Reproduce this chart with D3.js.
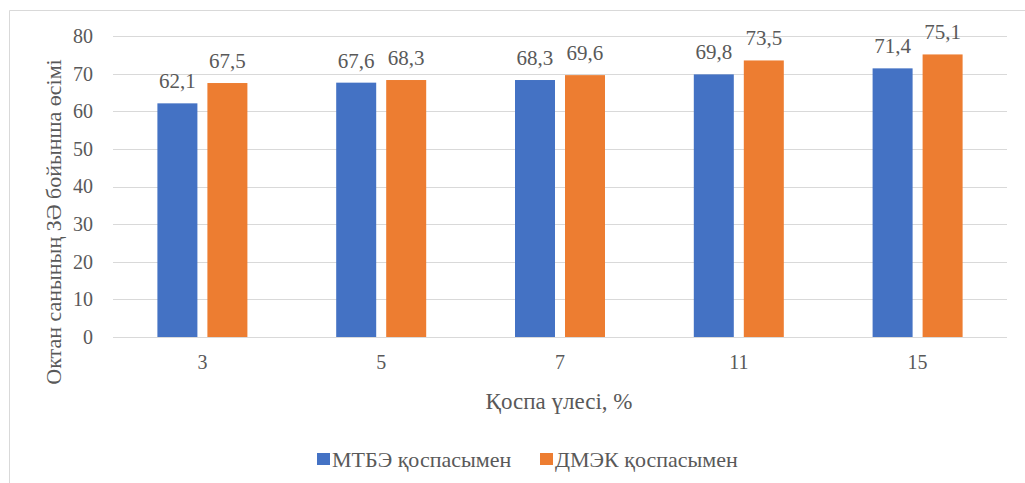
<!DOCTYPE html>
<html>
<head>
<meta charset="utf-8">
<script src="https://cdn.jsdelivr.net/npm/d3@7"></script>
<style>
  body { margin: 0; background: #fff; }
  svg { display: block; }
</style>
</head>
<body>
<svg width="1025" height="483"></svg>
<script>
const categories = ["3", "5", "7", "11", "15"];
const seriesNames = ["МТБЭ қоспасымен", "ДМЭК қоспасымен"];
const mtbeValues = [62.1, 67.6, 68.3, 69.8, 71.4];
const dmekValues = [67.5, 68.3, 69.6, 73.5, 75.1];
const yTicks = [0, 10, 20, 30, 40, 50, 60, 70, 80];

const colors = ["#4472C4", "#ED7D31"];
const textColor = "#595959";
const gridColor = "#d9d9d9";
const serif = "Liberation Serif";

const svg = d3.select("svg").attr("font-family", serif);

// chart frame (only left and top edges visible in the crop)
svg.append("line").attr("x1", 9.5).attr("y1", 10.5).attr("x2", 1025).attr("y2", 10.5).attr("stroke", gridColor);
svg.append("line").attr("x1", 9.5).attr("y1", 10.5).attr("x2", 9.5).attr("y2", 483).attr("stroke", gridColor);

const plot = { left: 113, right: 1007, top: 36, bottom: 337 };

const x0 = d3.scaleBand()
    .domain(categories)
    .range([plot.left, plot.right]);

const x1 = d3.scaleBand()
    .domain(seriesNames)
    .range([0, x0.bandwidth()])
    .paddingInner(0.2)
    .paddingOuter(0.888);

const y = d3.scaleLinear()
    .domain([0, 80])
    .range([plot.bottom, plot.top]);

// gridlines
svg.append("g")
    .selectAll("line")
    .data(yTicks)
    .join("line")
    .attr("x1", plot.left)
    .attr("x2", plot.right)
    .attr("y1", d => Math.round(y(d)) + 0.5)
    .attr("y2", d => Math.round(y(d)) + 0.5)
    .attr("stroke", gridColor)
    .attr("stroke-width", 1);

// y axis labels
const yAxis = svg.append("g")
    .attr("transform", `translate(${plot.left - 20},0)`)
    .call(d3.axisLeft(y).tickValues(yTicks).tickSize(0).tickPadding(0))
    .attr("font-family", serif);
yAxis.select(".domain").remove();
yAxis.selectAll("text")
    .attr("fill", textColor)
    .attr("font-size", 20);

// x axis labels
const xAxis = svg.append("g")
    .attr("transform", `translate(0,${plot.bottom + 18})`)
    .call(d3.axisBottom(x0).tickSize(0).tickPadding(0))
    .attr("font-family", serif);
xAxis.select(".domain").remove();
xAxis.selectAll("text")
    .attr("fill", textColor)
    .attr("font-size", 20);

// bars
const rows = categories.map((c, i) => ({ cat: c, vals: [mtbeValues[i], dmekValues[i]] }));

const groups = svg.append("g")
    .selectAll("g")
    .data(rows)
    .join("g")
    .attr("transform", d => `translate(${x0(d.cat)},0)`);

groups.selectAll("rect")
    .data(d => d.vals.map((v, j) => ({ name: seriesNames[j], value: v, idx: j })))
    .join("rect")
    .attr("x", d => x1(d.name))
    .attr("y", d => y(d.value))
    .attr("width", x1.bandwidth())
    .attr("height", d => y(0) - y(d.value))
    .attr("fill", d => colors[d.idx]);

// value labels
groups.selectAll("text")
    .data(d => d.vals.map((v, j) => ({ name: seriesNames[j], value: v })))
    .join("text")
    .attr("x", d => x1(d.name) + x1.bandwidth() / 2)
    .attr("y", d => y(d.value) - 15)
    .attr("text-anchor", "middle")
    .attr("fill", textColor)
    .attr("font-family", serif)
    .attr("font-size", 21)
    .text(d => d3.format(".1f")(d.value).replace(".", ","));

// axis titles
svg.append("text")
    .attr("transform", `translate(61,222) rotate(-90)`)
    .attr("text-anchor", "middle")
    .attr("fill", textColor)
    .attr("font-family", serif)
    .attr("font-size", 22)
    .text("Октан санының ЗӘ бойынша өсімі");

svg.append("text")
    .attr("x", 559)
    .attr("y", 409)
    .attr("text-anchor", "middle")
    .attr("fill", textColor)
    .attr("font-family", serif)
    .attr("font-size", 23)
    .text("Қоспа үлесі, %");

// legend
const legendItems = [
    { name: seriesNames[0], color: colors[0], x: 317 },
    { name: seriesNames[1], color: colors[1], x: 540 }
];
const legend = svg.append("g")
    .selectAll("g")
    .data(legendItems)
    .join("g")
    .attr("transform", d => `translate(${d.x},453)`);
legend.append("rect")
    .attr("width", 13)
    .attr("height", 12)
    .attr("fill", d => d.color);
legend.append("text")
    .attr("x", 15)
    .attr("y", 14)
    .attr("fill", textColor)
    .attr("font-family", serif)
    .attr("font-size", 22)
    .text(d => d.name);
</script>
</body>
</html>
